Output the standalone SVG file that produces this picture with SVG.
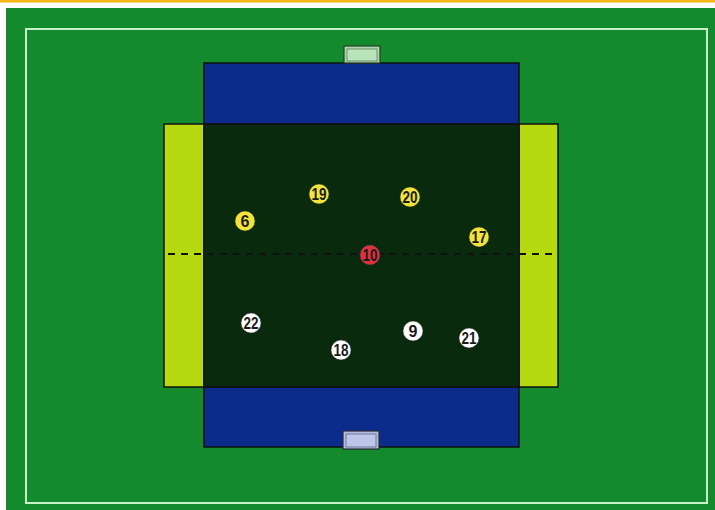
<svg xmlns="http://www.w3.org/2000/svg" width="715" height="510" viewBox="0 0 715 510">
<style>
.zone{stroke:#111;stroke-width:1.5}
.p circle{stroke:#333;stroke-width:0.5}
.p text{font-family:"Liberation Sans",Arial,sans-serif;font-weight:bold;font-size:16px;fill:#1a1a1a;text-anchor:middle}
.y circle{fill:#f1e43a}
.r circle{fill:#e0323e}
.w circle{fill:#ffffff}
</style>
<rect x="0" y="0" width="715" height="510" fill="#ffffff"/>
<rect x="0" y="0" width="715" height="2.5" fill="#f3b415"/>
<rect x="6" y="8" width="709" height="502" fill="#138a2c"/>
<rect x="26" y="29" width="681" height="474" fill="none" stroke="#c9f0c9" stroke-width="2"/>
<g id="field">
<rect class="zone" x="164" y="124" width="40" height="263" fill="#b6d90f"/>
<rect class="zone" x="519" y="124" width="39" height="263" fill="#b6d90f"/>
<rect class="zone" x="204" y="63" width="315" height="61" fill="#0b2c8a"/>
<rect class="zone" x="204" y="387" width="315" height="60" fill="#0b2c8a"/>
<rect class="zone" x="204" y="124" width="315" height="263" fill="#0a2a0e"/>
</g>
<g id="goal-top">
<rect x="344" y="46" width="36" height="17" fill="#a9d9a9" stroke="#2a3a2a" stroke-width="1.2"/>
<rect x="347" y="49" width="30" height="12" fill="#b9e3b9" stroke="#4a5a4a" stroke-width="0.6"/>
</g>
<g id="goal-bottom">
<rect x="343" y="431" width="36" height="18" fill="#b3bde2" stroke="#2a2a3a" stroke-width="1.2"/>
<rect x="346" y="434" width="30" height="13" fill="#bcc6e8" stroke="#4a4a5a" stroke-width="0.6"/>
</g>
<g id="connectors">
<line x1="168" y1="254" x2="558" y2="254" stroke="#111" stroke-width="1.8" stroke-dasharray="7,6"/>
</g>
<g id="p6" class="p y"><circle cx="245" cy="221" r="10"/><text x="245" y="227">6</text></g>
<g id="p19" class="p y"><circle cx="319" cy="194" r="10"/><text x="319" y="200" textLength="15" lengthAdjust="spacingAndGlyphs">19</text></g>
<g id="p20" class="p y"><circle cx="410" cy="197" r="10"/><text x="410" y="203" textLength="15" lengthAdjust="spacingAndGlyphs">20</text></g>
<g id="p17" class="p y"><circle cx="479" cy="237" r="10"/><text x="479" y="243" textLength="15" lengthAdjust="spacingAndGlyphs">17</text></g>
<g id="p10" class="p r"><circle cx="370" cy="255" r="10"/><text x="370" y="261" textLength="15" lengthAdjust="spacingAndGlyphs">10</text></g>
<g id="p22" class="p w"><circle cx="251" cy="323" r="10"/><text x="251" y="329" textLength="15" lengthAdjust="spacingAndGlyphs">22</text></g>
<g id="p18" class="p w"><circle cx="341" cy="350" r="10"/><text x="341" y="356" textLength="15" lengthAdjust="spacingAndGlyphs">18</text></g>
<g id="p9" class="p w"><circle cx="413" cy="331" r="10"/><text x="413" y="337">9</text></g>
<g id="p21" class="p w"><circle cx="469" cy="338" r="10"/><text x="469" y="344" textLength="15" lengthAdjust="spacingAndGlyphs">21</text></g>
</svg>
